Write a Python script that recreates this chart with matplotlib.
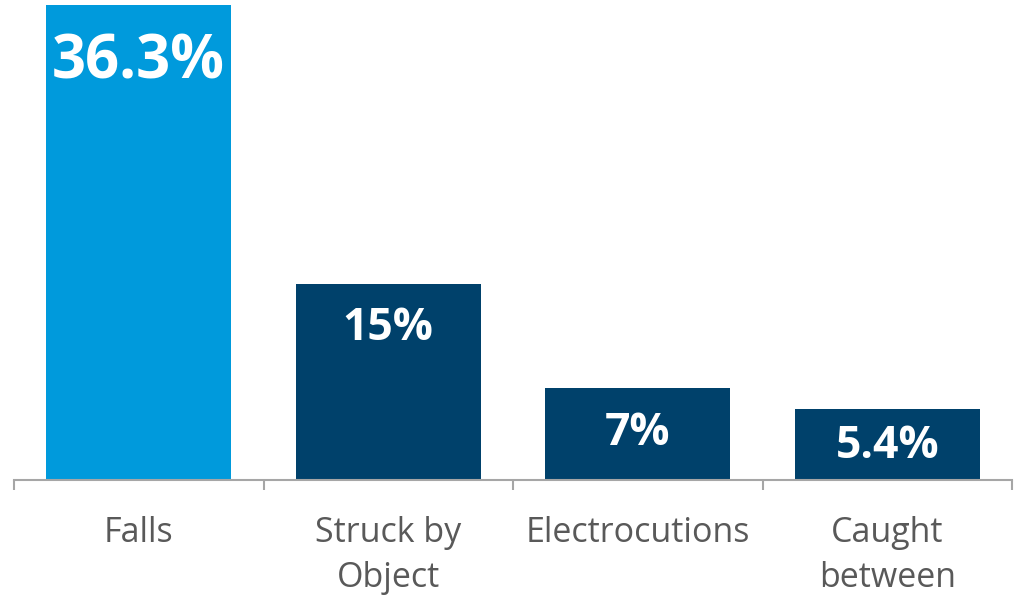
import matplotlib
matplotlib.use("Agg")
import matplotlib.pyplot as plt
import numpy as np

plt.rcParams['font.family'] = ['Open Sans', 'DejaVu Sans']

# Datos
categorias = ['Falls', 'Struck by\nObject', 'Electrocutions', 'Caught\nbetween']
valores = [36.3, 15, 7, 5.4]
etiquetas = ['36.3%', '15%', '7%', '5.4%']
colores = ['#009ADC', '#00416B', '#00416B', '#00416B']

fig = plt.figure(figsize=(10.18, 5.97), dpi=100)
ax = fig.add_axes([14 / 1018, 117 / 597, 998 / 1018, 475 / 597])

x = np.arange(len(categorias))
barras = ax.bar(x, valores, width=0.74, color=colores, zorder=2)

ax.set_xlim(-0.5, len(categorias) - 0.5)
ax.set_ylim(0, max(valores))

for s in ['top', 'right', 'left']:
    ax.spines[s].set_visible(False)
ax.spines['bottom'].set_color('#A6A6A6')
ax.spines['bottom'].set_linewidth(1.5)
ax.set_yticks([])

ax.set_xticks(x)
ax.set_xticklabels(categorias, fontsize=24.5, color='#595959', linespacing=1.42)
ax.tick_params(axis='x', which='major', length=0, pad=26)
ax.set_xticks(np.arange(-0.5, len(categorias)), minor=True)
ax.tick_params(axis='x', which='minor', length=7, width=1.5, color='#A6A6A6')

# px por unidad
ppu = 475 / max(valores)
for i, (b, lab) in enumerate(zip(barras, etiquetas)):
    fs = 43 if i == 0 else 32
    h_px = b.get_height() * ppu
    off = min(fs * 100 / 72 * 0.714 / 2 + 29, h_px / 2 + 2)
    if i == 0:
        off = 58
    ax.annotate(lab, (b.get_x() + b.get_width() / 2, b.get_height()),
                xytext=(0, -off * 72 / 100), textcoords='offset points',
                ha='center', va='center', color='white', fontsize=fs,
                fontweight='bold')

fig.savefig('out.png', dpi=100)
